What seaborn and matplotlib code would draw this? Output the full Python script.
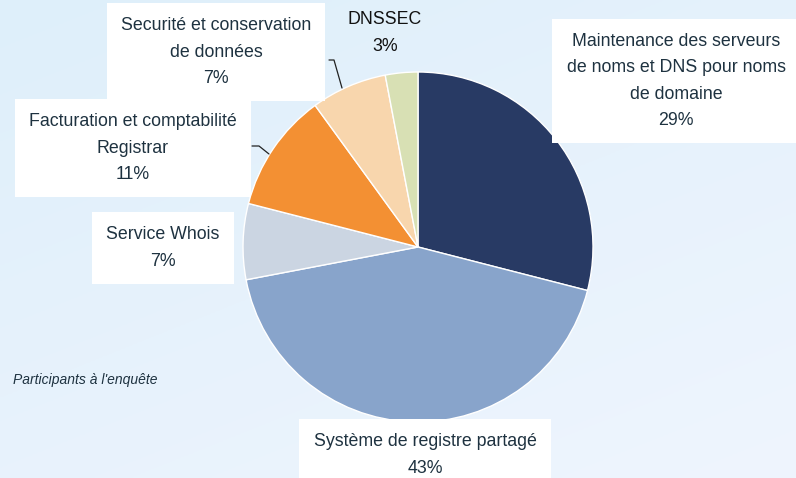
import numpy as np
import matplotlib
matplotlib.use("Agg")
import matplotlib.pyplot as plt
import seaborn as sns

# ---- data ----
categories = [
    "Maintenance des serveurs\nde noms et DNS pour noms\nde domaine",
    "Système de registre partagé",
    "Service Whois",
    "Facturation et comptabilité\nRegistrar",
    "Securité et conservation\nde données",
    "DNSSEC",
]
values = [29, 43, 7, 11, 7, 3]
pct_labels = ["29%", "43%", "7%", "11%", "7%", "3%"]
colors = ["#283A64", "#88A4CB", "#CBD5E2", "#F39033", "#F8D6AD", "#D8E0B4"]
note = "Participants à l'enquête"

sns.set_theme(style="white")
plt.rcParams["font.family"] = ["Liberation Sans", "DejaVu Sans"]
fs = 12.8

W, H = 796, 478
fig = plt.figure(figsize=(W / 100, H / 100), dpi=100)

# background gradient
bg = fig.add_axes([0, 0, 1, 1])
yy, xx = np.mgrid[0:1:200j, 0:1:300j]
t = np.clip(0.6 * yy + 0.4 * xx, 0, 1)
c0 = np.array([0xDE, 0xEF, 0xFA]) / 255
c1 = np.array([0xEF, 0xF5, 0xFE]) / 255
img = c0[None, None, :] * (1 - t[..., None]) + c1[None, None, :] * t[..., None]
bg.imshow(img, aspect="auto", extent=[0, 1, 0, 1], origin="upper")
bg.axis("off")

# pie axes: center (418,247) px, radius 175 px
cx, cy, R = 418, 247, 175
ax = fig.add_axes([(cx - R) / W, (H - cy - R) / H, 2 * R / W, 2 * R / H])
ax.pie(values, colors=colors, startangle=90, counterclock=False, radius=1,
       wedgeprops=dict(edgecolor="white", linewidth=1.0))
ax.set_xlim(-1, 1)
ax.set_ylim(-1, 1)
ax.set_aspect("equal")
ax.axis("off")


def d(px, py):
    return ((px - cx) / R, (cy - py) / R)


txt_color = "#1E3240"
label_pos = [
    (676, 81, True),
    (425, 455, True),
    (163, 248, True),
    (133, 148, True),
    (216, 52, True),
    (385, 33, False),
]
for cat, pct, (px, py, boxed) in zip(categories, pct_labels, label_pos):
    x, y = d(px, py)
    kw = {}
    if boxed:
        kw["bbox"] = dict(boxstyle="square,pad=0.8", facecolor="white", edgecolor="none")
    ax.text(x, y, cat + "\n" + pct, ha="center", va="center", fontsize=fs,
            color=txt_color if boxed else "#111111", linespacing=1.72,
            clip_on=False, zorder=5, **kw)

# leader lines
for pts in ([(329, 60), (334, 60), (342, 88)], [(252, 146), (259, 146), (269, 154)]):
    xs, ys = zip(*[d(*p) for p in pts])
    ax.plot(xs, ys, color="#222222", lw=0.9, clip_on=False, zorder=4)

fig.text(13 / W, 1 - 380 / H, note, fontsize=10, style="italic",
         color=txt_color, ha="left", va="center")

fig.savefig("out.png", dpi=100)
